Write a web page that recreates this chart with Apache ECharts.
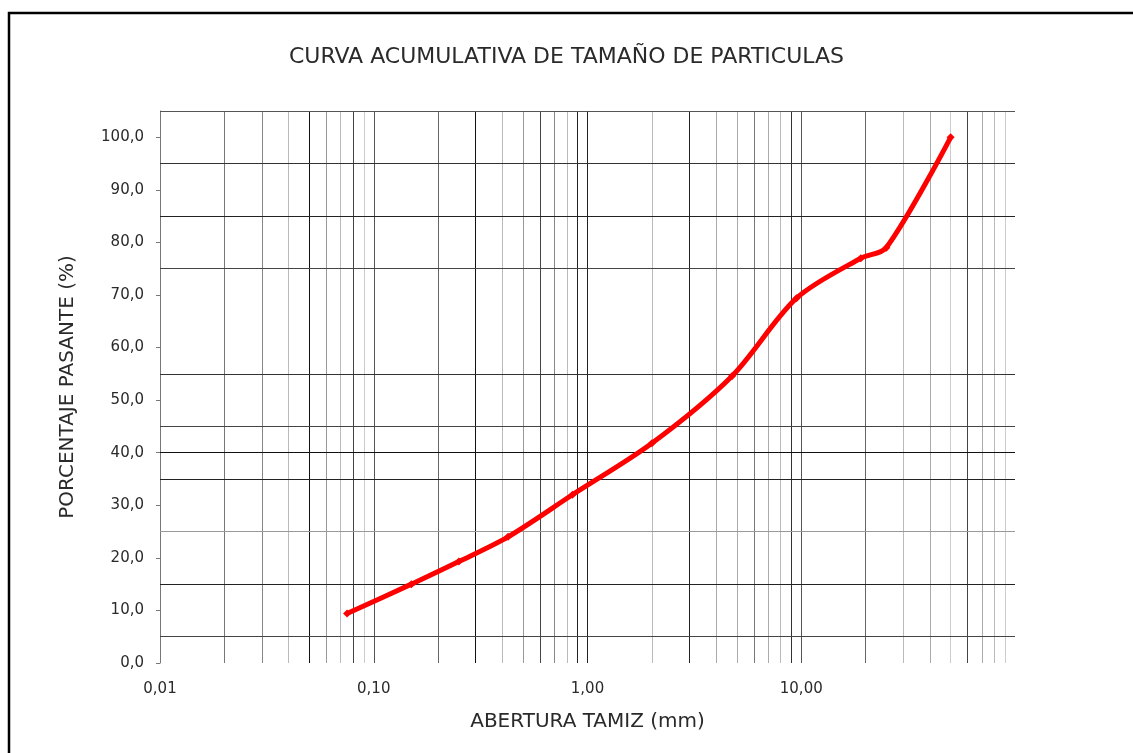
<!DOCTYPE html>
<html>
<head>
<meta charset="utf-8">
<title>Curva acumulativa</title>
<script src="https://cdn.jsdelivr.net/npm/echarts@6/dist/echarts.min.js"></script>
<style>
  html, body { margin: 0; padding: 0; background: #fff; }
  #chart { width: 1133px; height: 753px; }
</style>
</head>
<body>
<div id="chart"></div>
<script>
// sieve opening (mm) and cumulative % passing
var aberturas = [0.075, 0.15, 0.25, 0.425, 0.85, 2.0, 4.75, 9.5, 19.0, 25.0, 50.0];
var pasante = [9.4, 15.0, 19.3, 24.0, 32.0, 41.8, 54.6, 69.4, 77.0, 79.0, 100.0];

// axis labels
var xLabelValues = [0.01, 0.1, 1, 10];
var yLabelValues = [0, 10, 20, 30, 40, 50, 60, 70, 80, 90, 100];

// grid lines of the log paper
var gridX = [0.02, 0.03, 0.04, 0.05, 0.06, 0.07, 0.08, 0.09, 0.1,
             0.2, 0.3, 0.4, 0.5, 0.6, 0.7, 0.8, 0.9, 1,
             2, 3, 4, 5, 6, 7, 8, 9, 10,
             20, 30, 40, 50, 60, 70, 80, 90];
var gridY = [5, 15, 25, 35, 40, 45, 55, 75, 85, 95, 105];

// shade of each grid line (the scan has uneven lines)
var gridXColors = ['#777', '#888', '#bbb', '#111', '#999', '#bbb', '#444', '#ccc', '#555',
                   '#666', '#111', '#bbb', '#999', '#444', '#888', '#bbb', '#222', '#222',
                   '#bbb', '#222', '#aaa', '#aaa', '#777', '#aaa', '#bbb', '#333', '#555',
                   '#666', '#bbb', '#aaa', '#ccc', '#444', '#aaa', '#bbb', '#ccc'];
var gridYColors = ['#444', '#222', '#999', '#222', '#111', '#444', '#333', '#444', '#222', '#333', '#555'];

var font = 'DejaVu Sans';

function fmt(v, d) {
    return v.toFixed(d).replace('.', ',');
}

var chart = echarts.init(document.getElementById('chart'));

var points = [];
for (var i = 0; i < aberturas.length; i++) {
    points.push([aberturas[i], pasante[i]]);
}

var vLines = [];
for (var j = 0; j < gridX.length; j++) {
    vLines.push({ xAxis: gridX[j], lineStyle: { color: gridXColors[j] } });
}
var hLines = [];
for (var k = 0; k < gridY.length; k++) {
    hLines.push({ yAxis: gridY[k], lineStyle: { color: gridYColors[k] } });
}

var option = {
    animation: false,
    backgroundColor: '#fff',
    title: {
        text: 'CURVA ACUMULATIVA DE TAMAÑO DE PARTICULAS',
        left: 'center',
        top: 41,
        textStyle: { fontFamily: font, fontWeight: 'normal', fontSize: 22, color: '#2a2a2a' }
    },
    graphic: [{
        type: 'rect',
        shape: { x: 9, y: 13, width: 1200, height: 800 },
        style: { fill: 'none', stroke: '#000', lineWidth: 2.5 },
        silent: true
    }],
    grid: { left: 160, top: 111, right: 118, bottom: 90 },
    xAxis: {
        type: 'log',
        logBase: 10,
        min: 0.01,
        max: 100,
        name: 'ABERTURA TAMIZ (mm)',
        nameLocation: 'middle',
        nameGap: 49,
        nameTextStyle: { fontFamily: font, fontSize: 20, color: '#2a2a2a' },
        axisLine: { show: false },
        axisTick: { show: false },
        splitLine: { show: false },
        axisLabel: {
            customValues: xLabelValues,
            margin: 19,
            fontFamily: font,
            fontSize: 15,
            color: '#2a2a2a',
            formatter: function (v) { return fmt(v, 2); }
        }
    },
    yAxis: {
        type: 'value',
        min: 0,
        max: 105,
        interval: 5,
        name: 'PORCENTAJE PASANTE (%)',
        nameLocation: 'middle',
        nameGap: 82,
        nameTextStyle: { fontFamily: font, fontSize: 20, color: '#2a2a2a' },
        axisLine: { show: true, lineStyle: { color: '#777', width: 1 } },
        axisTick: { show: true, customValues: yLabelValues, length: 4, lineStyle: { color: '#777' } },
        splitLine: { show: false },
        axisLabel: {
            customValues: yLabelValues,
            margin: 16,
            fontFamily: font,
            fontSize: 15,
            color: '#2a2a2a',
            formatter: function (v) { return fmt(v, 1); }
        }
    },
    series: [{
        name: 'grid',
        type: 'line',
        data: [],
        z: 1,
        silent: true,
        markLine: {
            silent: true,
            symbol: ['none', 'none'],
            label: { show: false },
            lineStyle: { type: 'solid', width: 1 },
            data: vLines.concat(hLines)
        }
    }, {
        name: 'Pasante',
        type: 'line',
        data: points,
        z: 5,
        smooth: 0.3,
        symbol: 'diamond',
        symbolSize: 8,
        itemStyle: { color: '#ff0000' },
        lineStyle: { color: '#ff0000', width: 5 }
    }]
};

chart.setOption(option);
</script>
</body>
</html>
